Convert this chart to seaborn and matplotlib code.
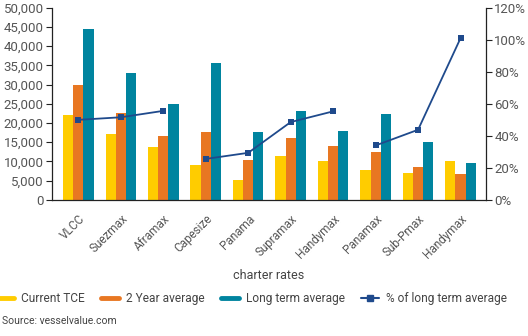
import numpy as np
import pandas as pd
import matplotlib
matplotlib.use("Agg")
import matplotlib.pyplot as plt
import seaborn as sns
from matplotlib.lines import Line2D

categories = ["VLCC", "Suezmax", "Aframax", "Capesize", "Panama", "Supramax",
              "Handymax", "Panamax", "Sub-Pmax", "Handymax"]
current_tce = [22000, 17200, 13800, 9100, 5200, 11500, 10200, 7800, 7000, 10200]
two_year_avg = [29800, 22700, 16700, 17700, 10400, 16200, 14100, 12500, 8600, 6800]
long_term_avg = [44500, 33100, 25000, 35700, 17700, 23200, 18000, 22400, 15100, 9700]
pct_long_term = [50, 51.6, 55.6, 25.6, 29.4, 48.6, 55.3, 34.0, 43.8, 101]
line_segment = [0, 0, 0, 1, 1, 1, 1, 2, 2, 2]
series_names = ["Current TCE", "2 Year average", "Long term average"]
colors = ["#FFCC00", "#E87722", "#00849F"]
line_color = "#1F4A8C"

sns.set_theme(style="white")
plt.rcParams['font.family'] = ['Roboto', 'DejaVu Sans']

idx = list(range(len(categories)))
rows = []
for i in idx:
    for name, vals in zip(series_names, [current_tce, two_year_avg, long_term_avg]):
        rows.append({"idx": i, "series": name, "value": vals[i]})
df = pd.DataFrame(rows)
line_df = pd.DataFrame({"idx": idx, "pct": pct_long_term, "seg": line_segment})

fig = plt.figure(figsize=(5.28, 3.36), dpi=100)
ax = fig.add_axes([0.0985, 0.405, 0.822, 0.572])
sns.barplot(data=df, x="idx", y="value", hue="series", hue_order=series_names,
            palette=colors, ax=ax, width=0.72, saturation=1, legend=False,
            linewidth=0, edgecolor="none")
ax.set_ylim(0, 50000)
ax.set_xlim(-0.62, 9.6)
ax.set_yticks(np.arange(0, 50001, 5000))
ax.set_yticklabels([f"{v:,}" for v in range(0, 50001, 5000)])
ax.set_xticks(idx)
ax.set_xticklabels(categories, rotation=45, ha="right", rotation_mode="anchor")
ax.set_xlabel("charter rates", fontsize=9, color="#444444", labelpad=6)
ax.set_ylabel("")
for s in ["top", "right"]:
    ax.spines[s].set_visible(False)
for s in ["left", "bottom"]:
    ax.spines[s].set_color("#222222")
    ax.spines[s].set_linewidth(0.9)
ax.tick_params(axis="y", which="both", left=True, length=4, width=0.8, color="#222222",
               labelsize=9.5, labelcolor="#555555", pad=2)
ax.tick_params(axis="x", bottom=False, labelsize=8.5, labelcolor="#555555", pad=3)

ax2 = ax.twinx()
sns.lineplot(data=line_df, x="idx", y="pct", units="seg", estimator=None,
             color=line_color, marker="s", markersize=5, markeredgewidth=0,
             linewidth=1.3, ax=ax2)
ax2.set_ylim(0, 120)
ax2.set_yticks(np.arange(0, 121, 20))
ax2.set_yticklabels([f"{v}%" for v in range(0, 121, 20)])
ax2.set_ylabel("")
ax2.set_xlabel("")
for s in ["top", "left", "bottom"]:
    ax2.spines[s].set_visible(False)
ax2.spines["right"].set_color("#222222")
ax2.spines["right"].set_linewidth(0.9)
ax2.tick_params(axis="y", right=True, length=4, width=0.8, color="#222222",
                labelsize=9.5, labelcolor="#555555", pad=2)
ax2.grid(False)
ax.grid(False)

handles = [Line2D([0], [0], color=c, lw=3.5) for c in colors]
handles.append(Line2D([0], [0], color=line_color, lw=1.5, marker="s", markersize=4))
labels = series_names + ["% of long term average"]
fig.legend(handles, labels, loc="center left", bbox_to_anchor=(-0.012, 0.112), ncol=4,
           frameon=False, fontsize=8.6, handlelength=1.5, columnspacing=1.35,
           handletextpad=0.6, labelcolor="#444444", borderaxespad=0, borderpad=0.2)
fig.text(0.004, 0.035, "Source: vesselvalue.com", fontsize=7.5, color="#444444")

fig.savefig("out.png", dpi=100)
